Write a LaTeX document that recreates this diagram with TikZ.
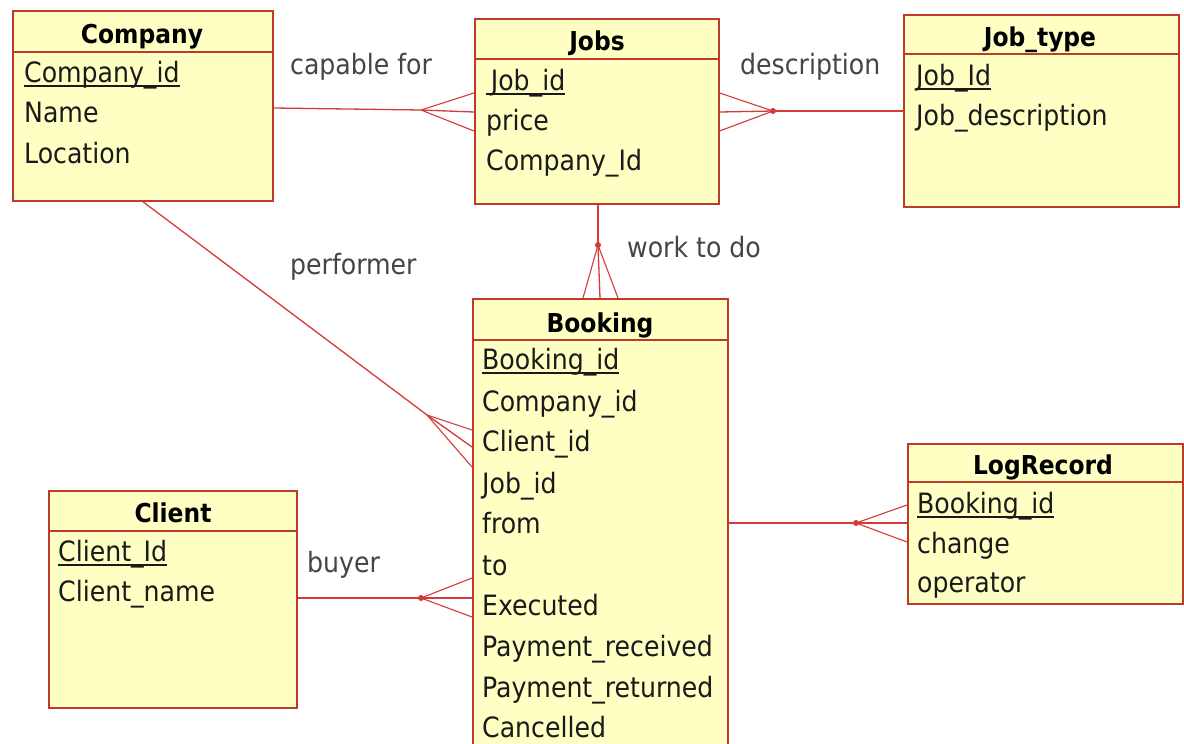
\documentclass[tikz,border=0pt]{standalone}
\usepackage{fontspec}
\setmainfont{DejaVu Sans Condensed}
\usetikzlibrary{calc}
\definecolor{boxfill}{HTML}{FFFFC4}
\definecolor{boxline}{HTML}{C0392B}
\definecolor{relline}{HTML}{D43A3A}
\definecolor{attrtext}{HTML}{1A1A1A}
\definecolor{labtext}{HTML}{454545}
\newcommand{\keyattr}[1]{\setbox0\hbox{#1}\rlap{\color{attrtext}\rule[-4.5pt]{\wd0}{1.4pt}}\box0}
\begin{document}
\begin{tikzpicture}[x=1pt,y=-1pt,
 entity/.style={draw=boxline, fill=boxfill, line width=1.6pt, anchor=north west, inner sep=0pt},
 sep/.style={draw=boxline, line width=1.6pt},
 title/.style={anchor=base, font=\fontsize{26}{30}\selectfont\bfseries, text=black, inner sep=0pt},
 attr/.style={anchor=base west, font=\fontsize{28}{32}\selectfont, text=attrtext, inner sep=0pt},
 lab/.style={anchor=base west, font=\fontsize{28}{32}\selectfont, text=labtext, inner sep=0pt},
 rel/.style={draw=relline, line width=1.3pt},
 foot/.style={draw=relline, line width=1.1pt},
 apexdot/.style={circle, fill=relline, inner sep=0pt, minimum size=6pt}]
\useasboundingbox[fill=white] (0,0) rectangle (1184,744);

% entities
\node[entity, minimum width=260pt, minimum height=190pt] (company) at (12,10) {};
\node[entity, minimum width=244pt, minimum height=185pt] (jobs) at (474,18) {};
\node[entity, minimum width=275pt, minimum height=192pt] (jobtype) at (903,14) {};
\node[entity, minimum width=255pt, minimum height=452pt] (booking) at (472,298) {};
\node[entity, minimum width=248pt, minimum height=217pt] (client) at (48,490) {};
\node[entity, minimum width=275pt, minimum height=160pt] (logrecord) at (907,443) {};

% header separators
\draw[sep] (company.west |- 0,52) -- (company.east |- 0,52);
\draw[sep] (jobs.west |- 0,59) -- (jobs.east |- 0,59);
\draw[sep] (jobtype.west |- 0,54) -- (jobtype.east |- 0,54);
\draw[sep] (booking.west |- 0,340) -- (booking.east |- 0,340);
\draw[sep] (client.west |- 0,531) -- (client.east |- 0,531);
\draw[sep] (logrecord.west |- 0,482) -- (logrecord.east |- 0,482);

% titles
\node[title] (companyT) at (142,43) {Company};
\node[title] (jobsT) at (597,50) {Jobs};
\node[title] (jobtypeT) at (1040,46) {Job\_type};
\node[title] (bookingT) at (600,332) {Booking};
\node[title] (clientT) at (173,522) {Client};
\node[title] (logrecordT) at (1043,474) {LogRecord};

% attributes
\node[attr] (c1) at (24,82) {\keyattr{Company\_id}};
\node[attr] (c2) at (24,122) {Name};
\node[attr] (c3) at (24,163) {Location};

\node[attr] (j1) at (486,90) {\keyattr{\,Job\_id}};
\node[attr] (j2) at (486,130) {price};
\node[attr] (j3) at (486,170) {Company\_Id};

\node[attr] (t1) at (916,85) {\keyattr{Job\_Id}};
\node[attr] (t2) at (916,125) {Job\_description};

\node[attr] (b1) at (482,369) {\keyattr{Booking\_id}};
\node[attr] (b2) at (482,411) {Company\_id};
\node[attr] (b3) at (482,451) {Client\_id};
\node[attr] (b4) at (482,493) {Job\_id};
\node[attr] (b5) at (482,533) {from};
\node[attr] (b6) at (482,575) {to};
\node[attr] (b7) at (482,615) {Executed};
\node[attr] (b8) at (482,656) {Payment\_received};
\node[attr] (b9) at (482,697) {Payment\_returned};
\node[attr] (b10) at (482,737) {Cancelled};

\node[attr] (k1) at (58,561) {\keyattr{Client\_Id}};
\node[attr] (k2) at (58,601) {Client\_name};

\node[attr] (l1) at (917,513) {\keyattr{Booking\_id}};
\node[attr] (l2) at (917,553) {change};
\node[attr] (l3) at (917,592) {operator};

% relationship labels
\node[lab] (capable) at (290,74) {capable for};
\node[lab] (descr) at (740,74) {description};
\node[lab] (work) at (627,257) {work to do};
\node[lab] (perf) at (290,274) {performer};
\node[lab] (buyer) at (307,572) {buyer};

% apex coordinates
\coordinate (cjA) at (421,110);
\coordinate (jjA) at (773,111);
\coordinate (jbA) at (598,245);
\coordinate (cbA) at (427,415);
\coordinate (clA) at (421,598);
\coordinate (blA) at (856,523);

% Company - Jobs
\draw[rel] (company.east |- 0,108) -- (cjA);
\draw[foot] (cjA) -- (jobs.west |- 0,93);
\draw[rel] (cjA) -- (jobs.west |- 0,112);
\draw[foot] (cjA) -- (jobs.west |- 0,131);

% Job_type - Jobs
\draw[rel] (jobtype.west |- jjA) -- (jjA);
\draw[foot] (jjA) -- (jobs.east |- 0,93);
\draw[rel] (jjA) -- (jobs.east |- 0,112);
\draw[foot] (jjA) -- (jobs.east |- 0,131);
\node[apexdot] at (jjA) {};

% Jobs - Booking
\draw[rel] (jobs.south -| jbA) -- (jbA);
\draw[foot] (jbA) -- (booking.north -| 583,0);
\draw[rel] (jbA) -- (booking.north -| 600,0);
\draw[foot] (jbA) -- (booking.north -| 618,0);
\node[apexdot] at (jbA) {};

% Company - Booking
\draw[rel] (company.south) -- (cbA);
\draw[foot] (cbA) -- (booking.west |- 0,430);
\draw[rel] (cbA) -- (booking.west |- 0,447);
\draw[foot] (cbA) -- (booking.west |- 0,467);

% Client - Booking
\draw[rel] (client.east |- clA) -- (clA);
\draw[foot] (clA) -- (booking.west |- 0,578);
\draw[rel] (clA) -- (booking.west |- 0,598);
\draw[foot] (clA) -- (booking.west |- 0,617);
\node[apexdot] at (clA) {};

% Booking - LogRecord
\draw[rel] (booking.east |- blA) -- (blA);
\draw[foot] (blA) -- (logrecord.west |- 0,505);
\draw[rel] (blA) -- (logrecord.west |- 0,523);
\draw[foot] (blA) -- (logrecord.west |- 0,542);
\node[apexdot] at (blA) {};
\end{tikzpicture}
\end{document}
